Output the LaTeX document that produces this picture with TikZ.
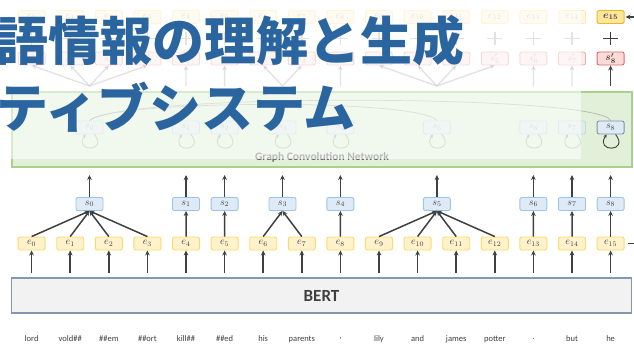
\documentclass[tikz,border=0pt]{standalone}
\usepackage{amsmath}
\usepackage{fontspec}
\setmainfont{Carlito}
\newfontfamily\cjk{Noto Sans CJK JP}
\usetikzlibrary{arrows.meta}
\definecolor{dk}{HTML}{404040}
\definecolor{eyf}{HTML}{FFF2CC}
\definecolor{eyb}{HTML}{FFD966}
\definecolor{eyfs}{HTML}{FFE699}
\definecolor{eybs}{HTML}{E6B830}
\definecolor{sbf}{HTML}{DEEBF7}
\definecolor{sbb}{HTML}{9DC3E6}
\definecolor{spf}{HTML}{FADBD8}
\definecolor{spb}{HTML}{E06666}
\definecolor{gcnf}{HTML}{E2F0D9}
\definecolor{gcnb}{HTML}{A9D18E}
\definecolor{bertf}{HTML}{F2F2F2}
\definecolor{bertb}{HTML}{8497B0}
\definecolor{titleblue}{HTML}{2B65A0}
\begin{document}
\begin{tikzpicture}[x=1pt,y=-1pt,
  box/.style={rounded corners=2pt,minimum width=27pt,minimum height=13pt,inner sep=0pt,line width=0.9pt,font=\fontsize{10}{11}\selectfont,text=dk},
  ebox/.style={box,draw=eyb,fill=eyf},
  sbox/.style={box,draw=sbb,fill=sbf},
  spbox/.style={box,draw=spb,fill=spf},
  faded/.style={opacity=0.5},
  arr/.style={-{Stealth[length=5pt,width=4.6pt]},line width=1.5pt,draw=dk},
  garr/.style={-{Stealth[length=5pt,width=4.6pt]},line width=1.3pt,draw=gray},
  plusst/.style={line width=1.5pt,draw=dk},
  loopst/.style={-{Stealth[length=3.5pt,width=3.5pt]},line width=0.9pt,draw=dk},
  arcst/.style={line width=0.7pt,draw=gray},
  word/.style={font=\fontsize{8.5}{10}\selectfont,text=dk,inner sep=0pt},
  title/.style={font=\cjk\bfseries\fontsize{52}{52}\selectfont,text=titleblue,inner sep=0pt,anchor=west}]
\useasboundingbox (0,0) rectangle (634,353);
\clip (0,0) rectangle (634,353);
\fill[white] (0,0) rectangle (634,353);
% BERT
\node[draw=bertb,fill=bertf,line width=1.6pt,minimum width=620pt,minimum height=35pt,inner sep=0pt,
  font=\bfseries\fontsize{17}{20}\selectfont,text=dk] (bert) at (321.5,295.5) {BERT};
% GCN
\node[draw=gcnb,fill=gcnf,line width=1.1pt,minimum width=620pt,minimum height=75pt,inner sep=0pt] (gcn) at (322,129.5) {};
\node[font=\bfseries\fontsize{11.5}{13}\selectfont,text=black!60,inner sep=0pt] (gl) at (322,157) {Graph Convolution Network};
% group nodes
\foreach \j/\gx in {0/89.5,1/186,2/224.6,3/282.5,4/340.4,5/436.9,6/533.4,7/572} {
  \node[sbox] (s\j) at (\gx,204) {$s_{\j}$};
  \node[sbox,faded,text=gray] (g\j) at (\gx,127.5) {$s_{\j}$};
  \coordinate (gin\j) at (\gx,175);
  \coordinate (gout\j) at (\gx,86);
  \draw[arr] (s\j.north) -- (gin\j);
  \draw[loopst,draw=gray,faded] ([xshift=5pt]g\j.south) .. controls +(14,18) and +(-12,18) .. ([xshift=-4pt]g\j.south);
}
\node[sbox] (s8) at (610.6,204) {$s_{8}$};
\node[sbox,draw=sbb!75!black] (g8) at (610.6,127.5) {$s_{8}$};
\coordinate (gin8) at (610.6,175);
\coordinate (gout8) at (610.6,86);
\draw[arr] (s8.north) -- (gin8);
\draw[loopst] ([xshift=5pt]g8.south) .. controls +(14,18) and +(-12,18) .. ([xshift=-4pt]g8.south);
\draw[arcst,faded] (g0.north) .. controls (110,100) and (420,98) .. (g5.north);
\draw[arcst,faded] (g0.north) .. controls (120,93) and (600,94) .. (g8.north);
% columns
\foreach \i/\g/\w in {0/0/lord,1/0/vold\#\#,2/0/\#\#em,3/0/\#\#ort,4/1/kill\#\#,5/2/\#\#ed,6/3/his,7/3/parents,8/4/{,},9/5/lily,10/5/and,11/5/james,12/5/potter,13/6/.,14/7/but} {
  \pgfmathsetmacro\xx{31.6+38.6*\i}
  \node[ebox] (e\i) at (\xx,243.5) {$e_{\i}$};
  \node[ebox,faded,text=gray] (te\i) at (\xx,17) {$e_{\i}$};
  \node[spbox,faded,text=gray] (sp\i) at (\xx,58.5) {$s'_{\g}$};
  \draw[plusst,draw=gray,faded] (\xx-7.5,38.5) -- (\xx+7.5,38.5) (\xx,32) -- (\xx,45);
  \node[word] (w\i) at (\xx,339) {\w};
  \coordinate (b\i) at (\xx,273);
  \draw[arr] (b\i) -- (e\i.south);
  \draw[arr] (e\i.north) -- (s\g.south);
  \draw[garr,faded] (gout\g) -- (sp\i.south);
}
% highlighted column 15
\node[ebox] (e15) at (610.6,243.5) {$e_{15}$};
\node[box,draw=eybs,fill=eyfs] (te15) at (610.6,17) {$\boldsymbol{e_{15}}$};
\node[spbox] (sp15) at (610.6,58.5) {$\boldsymbol{s'_{8}}$};
\draw[plusst] (603.1,38.5) -- (618.1,38.5) (610.6,32) -- (610.6,45);
\node[word] (w15) at (610.6,339) {he};
\coordinate (b15) at (610.6,273);
\draw[arr] (b15) -- (e15.south);
\draw[arr] (e15.north) -- (s8.south);
\draw[arr] (gout8) -- (sp15.south);
\coordinate (rt) at (650,17);
\coordinate (rb) at (650,243.5);
\draw[arr,shorten >=1pt] (rt) -- (te15.east);
\draw[line width=1.4pt,draw=dk,dash pattern=on 6pt off 3pt,shorten <=3pt] (e15.east) -- (rb);
% overlay
\fill[white,opacity=0.55] (0,0) rectangle (581,159);
\node[title] (t1) at (-4,41) {語情報の理解と生成};
\node[title] (t2) at (-4,107) {ティブシステム};
\end{tikzpicture}
\end{document}
